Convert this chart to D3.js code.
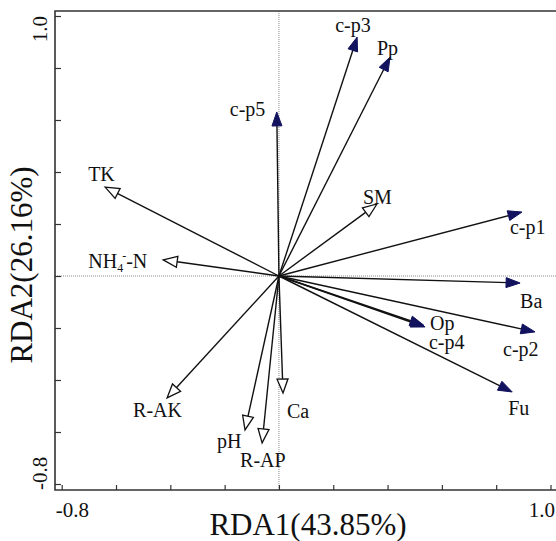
<!DOCTYPE html>
<html>
<head>
<meta charset="utf-8">
<script src="https://cdn.jsdelivr.net/npm/d3@7/dist/d3.min.js"></script>
<style>
  html, body { margin: 0; padding: 0; background: #fff; }
  svg { display: block; }
</style>
</head>
<body>
<svg id="chart" width="556" height="541"></svg>
<script>
// ---------------- DATA ----------------
const speciesNames = ["c-p3", "Pp", "c-p5", "c-p1", "Ba", "Op", "c-p4", "c-p2", "Fu"];
const speciesRDA1  = [0.288, 0.409, -0.008, 0.895, 0.888, 0.538, 0.534, 0.943, 0.859];
const speciesRDA2  = [0.919, 0.842, 0.631, 0.246, -0.027, -0.196, -0.190, -0.215, -0.446];

const envNames = ["TK", "NH4-N", "SM", "R-AK", "pH", "R-AP", "Ca"];
const envRDA1  = [-0.640, -0.426, 0.361, -0.412, -0.125, -0.062, 0.015];
const envRDA2  = [0.342, 0.062, 0.277, -0.469, -0.592, -0.642, -0.450];

const axisTicks = [-0.8, -0.6, -0.4, -0.2, 0.0, 0.2, 0.4, 0.6, 0.8, 1.0];
const tickLabels = ["-0.8", "1.0"];
const xTitle = "RDA1(43.85%)";
const yTitle = "RDA2(26.16%)";

// ---------------- LAYOUT ----------------
const FONT = "'Liberation Serif', 'Times New Roman', Tinos, 'DejaVu Serif', serif";
const frame = { left: 55, top: 11, right: 560, bottom: 490 };
const labelOffsets = {
  "c-p3": [-22, -5], "Pp": [-13, -2], "c-p5": [-47, 4], "c-p1": [-12, 22],
  "Ba": [0, 25], "Op": [5, 3], "c-p4": [5, 24], "c-p2": [-32, 24], "Fu": [-4, 23],
  "TK": [-17, -6], "NH4-N": [-75, 8], "SM": [-14, 0], "R-AK": [-34, 19],
  "pH": [-28, 18], "R-AP": [-22, 24], "Ca": [4, 25]
};

const svg = d3.select("#chart");
const x = d3.scaleLinear().domain([-0.8, 1.0]).range([61.7, 550.5]);
const y = d3.scaleLinear().domain([-0.8, 1.0]).range([484, 16]);

function txt(sel) {
  return sel.append("text").attr("font-family", FONT).attr("fill", "#111");
}

// zero lines (dotted)
svg.append("line")
  .attr("x1", x(0)).attr("x2", x(0)).attr("y1", frame.top).attr("y2", frame.bottom)
  .attr("stroke", "#8a8a8a").attr("stroke-width", 1).attr("stroke-dasharray", "1,1");
svg.append("line")
  .attr("x1", frame.left).attr("x2", frame.right).attr("y1", y(0)).attr("y2", y(0))
  .attr("stroke", "#8a8a8a").attr("stroke-width", 1).attr("stroke-dasharray", "1,1");

// axes (inward ticks)
const gx = svg.append("g").attr("transform", `translate(0,${frame.bottom})`)
  .call(d3.axisBottom(x).tickValues(axisTicks).tickSize(-5).tickFormat(""));
gx.select(".domain").remove();
gx.selectAll(".tick line").attr("stroke", "#333").attr("stroke-width", 1.2);

const gy = svg.append("g").attr("transform", `translate(${frame.left},0)`)
  .call(d3.axisLeft(y).tickValues(axisTicks).tickSize(-6).tickFormat(""));
gy.select(".domain").remove();
gy.selectAll(".tick line").attr("stroke", "#333").attr("stroke-width", 1.2);

// frame (right side runs off the canvas)
svg.append("path")
  .attr("d", `M${frame.right},${frame.top}H${frame.left}V${frame.bottom}H${frame.right}`)
  .attr("fill", "none").attr("stroke", "#333").attr("stroke-width", 1.6);

// tick labels
txt(svg).attr("x", x(-0.8) - 6).attr("y", 517)
  .attr("font-size", 21).attr("text-anchor", "start").text(tickLabels[0]);
txt(svg).attr("x", 555).attr("y", 517)
  .attr("font-size", 21).attr("text-anchor", "end").text(tickLabels[1]);
txt(svg).attr("transform", `translate(47,${y(1.0)}) rotate(-90)`)
  .attr("font-size", 21).attr("text-anchor", "end").text(tickLabels[1]);
txt(svg).attr("transform", `translate(47,${frame.bottom}) rotate(-90)`)
  .attr("font-size", 21).attr("text-anchor", "start").text(tickLabels[0]);

// axis titles
txt(svg).attr("x", 308).attr("y", 535).attr("font-size", 31)
  .attr("text-anchor", "middle").text(xTitle);
txt(svg).attr("transform", "translate(32,265) rotate(-90)")
  .attr("font-size", 31).attr("text-anchor", "middle").text(yTitle);

// arrows
const ox = x(0), oy = y(0);
function arrow(name, vx, vy, filled) {
  const tx = x(vx), ty = y(vy);
  const dx = tx - ox, dy = ty - oy;
  const len = Math.hypot(dx, dy);
  const ux = dx / len, uy = dy / len;
  const L = 14, W = filled ? 5 : 5.5;
  const bx = tx - L * ux, by = ty - L * uy;
  svg.append("line").attr("x1", ox).attr("y1", oy).attr("x2", bx + 2 * ux).attr("y2", by + 2 * uy)
    .attr("stroke", "#111").attr("stroke-width", 1.4);
  svg.append("path")
    .attr("d", `M${tx},${ty}L${bx - W * uy},${by + W * ux}L${bx + W * uy},${by - W * ux}Z`)
    .attr("fill", filled ? "#12125e" : "#fff")
    .attr("stroke", filled ? "#12125e" : "#111")
    .attr("stroke-width", filled ? 1 : 1.3)
    .attr("stroke-linejoin", "miter");
  const off = labelOffsets[name];
  const t = txt(svg).attr("x", tx + off[0]).attr("y", ty + off[1]).attr("font-size", 20);
  if (name === "NH4-N") {
    t.append("tspan").text("NH");
    t.append("tspan").attr("font-size", 12).attr("dy", 4).text("4");
    t.append("tspan").attr("font-size", 12).attr("dy", -12).attr("dx", -1).text("-");
    t.append("tspan").attr("dy", 8).text("-N");
  } else {
    t.text(name);
  }
}
envNames.forEach((n, i) => arrow(n, envRDA1[i], envRDA2[i], false));
speciesNames.forEach((n, i) => arrow(n, speciesRDA1[i], speciesRDA2[i], true));
</script>
</body>
</html>
